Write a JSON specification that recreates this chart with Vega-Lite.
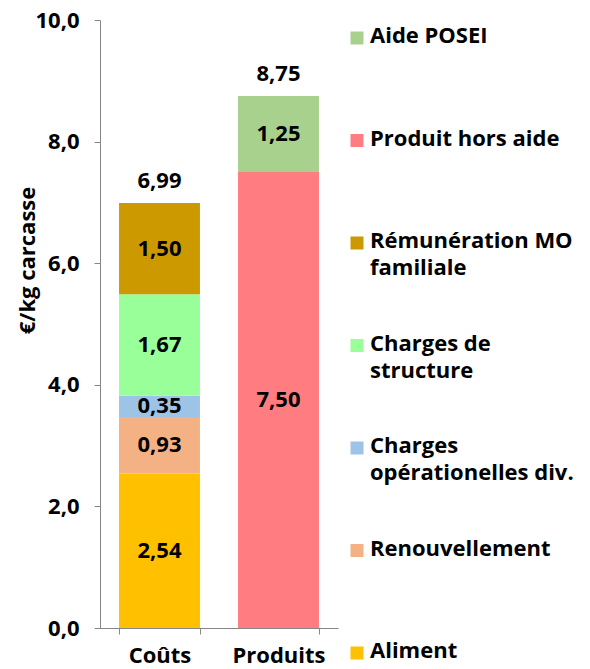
{
  "$schema": "https://vega.github.io/schema/vega-lite/v6.json",
  "width": 238,
  "height": 608,
  "autosize": "none",
  "padding": {"left": 100, "top": 20, "right": 252, "bottom": 41},
  "config": {
    "view": {"stroke": null},
    "locale": {"number": {"decimal": ",", "thousands": " ", "grouping": [3], "currency": ["", " €"]}},
    "font": "Open Sans",
    "text": {"font": "Open Sans", "fontWeight": "bold", "fontSize": 22, "color": "black"}
  },
  "datasets": {
    "segments": [
      {"cat": "Coûts", "poste": "Aliment", "val": 2.54, "ord": 1},
      {"cat": "Coûts", "poste": "Renouvellement", "val": 0.93, "ord": 2},
      {"cat": "Coûts", "poste": "Charges opérationelles div.", "val": 0.35, "ord": 3},
      {"cat": "Coûts", "poste": "Charges de structure", "val": 1.67, "ord": 4},
      {"cat": "Coûts", "poste": "Rémunération MO familiale", "val": 1.50, "ord": 5},
      {"cat": "Produits", "poste": "Produit hors aide", "val": 7.50, "ord": 1},
      {"cat": "Produits", "poste": "Aide POSEI", "val": 1.25, "ord": 2}
    ],
    "totals": [
      {"cat": "Coûts", "total": 6.99},
      {"cat": "Produits", "total": 8.75}
    ]
  },
  "encoding": {
    "x": {
      "field": "cat", "type": "nominal", "sort": ["Coûts", "Produits"],
      "scale": {"paddingInner": 0.32, "paddingOuter": 0.16},
      "axis": {
        "title": null, "labelAngle": 0, "tickBand": "extent", "tickSize": 6,
        "tickColor": "#868686", "domainColor": "#868686",
        "labelFont": "Open Sans", "labelFontSize": 22, "labelFontWeight": "bold", "labelColor": "black",
        "labelPadding": 11
      }
    }
  },
  "layer": [
    {
      "data": {"name": "segments"},
      "mark": {"type": "bar"},
      "encoding": {
        "y": {
          "field": "val", "type": "quantitative", "stack": "zero",
          "scale": {"domain": [0, 10], "nice": false},
          "axis": {
            "values": [0, 2, 4, 6, 8, 10], "format": ".1f", "grid": false,
            "tickSize": 6, "tickColor": "#868686", "domainColor": "#868686",
            "labelFont": "Open Sans", "labelFontSize": 22, "labelFontWeight": "bold", "labelColor": "black",
            "labelPadding": 15,
            "title": "€/kg carcasse", "titleFont": "Open Sans", "titleFontSize": 22, "titleFontWeight": "bold",
            "titleColor": "black", "titleX": -73, "titleY": 240, "titleAngle": -90,
            "titleAlign": "center", "titleBaseline": "middle"
          }
        },
        "color": {
          "field": "poste", "type": "nominal",
          "scale": {
            "domain": ["Aide POSEI", "Produit hors aide", "Rémunération MO familiale", "Charges de structure", "Charges opérationelles div.", "Renouvellement", "Aliment"],
            "range": ["#A9D18E", "#FF7C80", "#CC9900", "#99FF99", "#9DC3E6", "#F4B183", "#FFC000"]
          },
          "legend": {
            "title": null, "orient": "none", "legendX": 246, "legendY": 7, "padding": 0,
            "symbolType": "square", "symbolSize": 169, "symbolStrokeWidth": 0,
            "labelFont": "Open Sans", "labelFontSize": 22, "labelFontWeight": "bold", "labelColor": "black",
            "labelOffset": 2, "labelLimit": 300, "gridAlign": "all", "rowPadding": 53.5,
            "labelBaseline": "top",
            "labelExpr": "datum.label == 'Rémunération MO familiale' ? ['Rémunération MO', 'familiale'] : datum.label == 'Charges de structure' ? ['Charges de', 'structure'] : datum.label == 'Charges opérationelles div.' ? ['Charges', 'opérationelles div.'] : datum.label",
            "encode": {"labels": {"update": {"lineHeight": {"value": 27}, "dy": {"value": -12}}}}
          }
        },
        "order": {"field": "ord", "type": "quantitative"}
      }
    },
    {
      "data": {"name": "segments"},
      "transform": [
        {"stack": "val", "groupby": ["cat"], "sort": [{"field": "ord", "order": "ascending"}], "as": ["lo", "hi"]},
        {"calculate": "(datum.lo + datum.hi) / 2", "as": "mid"}
      ],
      "mark": {"type": "text", "baseline": "middle", "align": "center"},
      "encoding": {
        "y": {"field": "mid", "type": "quantitative"},
        "text": {"field": "val", "type": "quantitative", "format": ".2f"}
      }
    },
    {
      "data": {"name": "totals"},
      "mark": {"type": "text", "baseline": "middle", "align": "center", "dy": -22},
      "encoding": {
        "y": {"field": "total", "type": "quantitative"},
        "text": {"field": "total", "type": "quantitative", "format": ".2f"}
      }
    }
  ]
}
